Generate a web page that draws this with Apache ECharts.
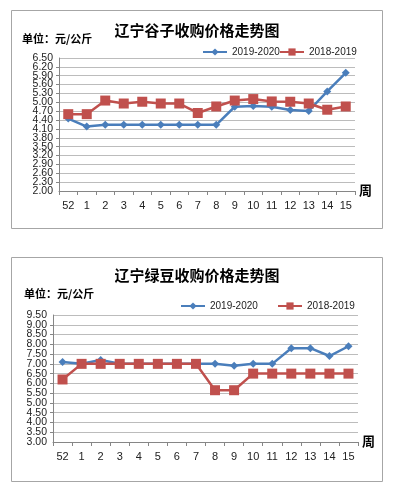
<!DOCTYPE html>
<html><head><meta charset="utf-8">
<script src="https://cdn.jsdelivr.net/npm/echarts@6/dist/echarts.min.js"></script>
<style>html,body{margin:0;padding:0;background:#fff}#c{width:394px;height:491px}</style>
</head><body><div id="c"></div>
<script>
const weeks = ['52','1','2','3','4','5','6','7','8','9','10','11','12','13','14','15'];
const seriesNames = ['2019-2020','2018-2019'];
const title1 = '辽宁谷子收购价格走势图';
const title2 = '辽宁绿豆收购价格走势图';
const unitLabel = '单位：元/公斤';
const millet2019 = [4.45,4.18,4.24,4.24,4.24,4.24,4.24,4.24,4.24,4.85,4.88,4.85,4.74,4.71,5.37,6.00];
const millet2018 = [4.60,4.60,5.06,4.96,5.02,4.96,4.96,4.64,4.86,5.06,5.11,5.03,5.02,4.96,4.75,4.86];
const mung2019 = [7.1,7.0,7.2,7.0,7.0,7.0,7.0,7.0,7.0,6.9,7.0,7.0,7.8,7.8,7.4,7.9];
const mung2018 = [6.2,7.0,7.0,7.0,7.0,7.0,7.0,7.0,5.65,5.65,6.5,6.5,6.5,6.5,6.5,6.5];

const BLUE = '#4a7ebb', RED = '#c0504d';
const FONT = '"Noto Sans CJK SC", "DejaVu Sans", sans-serif';
const NFONT = '"Liberation Sans", Arial, sans-serif';
const chart = echarts.init(document.getElementById('c'));

function xAxis(gi){
  return {type:'category', gridIndex:gi, data:weeks, boundaryGap:true,
    axisLine:{lineStyle:{color:'#868686'}},
    axisTick:{show:true, length:4, lineStyle:{color:'#868686'}},
    axisLabel:{color:'#222', fontSize:11, fontFamily:NFONT, margin:9},
    name:'周', nameLocation:'end', nameGap:4,
    nameTextStyle:{color:'#000', fontSize:13, fontWeight:'bold', fontFamily:FONT, verticalAlign:'bottom', padding:[0,0,-6,0]}};
}
const yLabelStyle = {color:'#222', fontSize:10.5, fontFamily:NFONT, margin:6};
function yAxis(gi,min,max,interval){
  return {type:'value', gridIndex:gi, min:min, max:max, interval:interval,
    axisLine:{show:true, lineStyle:{color:'#868686'}},
    axisTick:{show:true, length:3, lineStyle:{color:'#868686'}},
    splitLine:{lineStyle:{color:'#bcbcbc'}},
    axisLabel:Object.assign({showMinLabel:false, showMaxLabel:false,
      formatter:v=>v.toFixed(2)}, yLabelStyle)};
}
function yAxisEnds(gi,min,max,interval){
  return {type:'value', gridIndex:gi, min:min, max:max, interval:interval, position:'left',
    axisLine:{show:false}, axisTick:{show:false}, splitLine:{show:false},
    axisLabel:Object.assign({showMinLabel:true, showMaxLabel:true,
      formatter:v=>(Math.abs(v-min)<1e-6||Math.abs(v-max)<1e-6)?v.toFixed(2):''}, yLabelStyle)};
}
function line(name,data,gi,color,symbol,size){
  return {name:name, type:'line', xAxisIndex:gi, yAxisIndex:gi, data:data,
    symbol:symbol, symbolSize:size, lineStyle:{color:color, width:2.5},
    itemStyle:{color:color}, color:color, animation:false};
}
function legend(name,left,top){
  return {data:[name], left:left, top:top, itemWidth:24, itemHeight:9, itemGap:4,
    textStyle:{color:'#222', fontSize:10, fontFamily:NFONT}};
}

chart.setOption({
  animation:false,
  graphic:[
    {type:'rect', shape:{x:11.5,y:10.5,width:371,height:218}, style:{fill:'none', stroke:'#a6a6a6', lineWidth:1}},
    {type:'rect', shape:{x:11.5,y:257.5,width:371,height:224}, style:{fill:'none', stroke:'#a6a6a6', lineWidth:1}},
    {type:'text', left:22, top:33, style:{text:unitLabel, fill:'#000', fontSize:11, fontWeight:'bold', fontFamily:FONT}},
    {type:'text', left:24, top:288, style:{text:unitLabel, fill:'#000', fontSize:11, fontWeight:'bold', fontFamily:FONT}}
  ],
  title:[
    {text:title1, left:'center', top:18, textStyle:{fontSize:15, fontWeight:'bold', color:'#000', fontFamily:FONT}},
    {text:title2, left:'center', top:263, textStyle:{fontSize:15, fontWeight:'bold', color:'#000', fontFamily:FONT}}
  ],
  legend:[
    legend(seriesNames[0],197,42), legend(seriesNames[1],274,42),
    legend(seriesNames[0],175,296), legend(seriesNames[1],272,296)
  ],
  grid:[
    {left:59, top:58, width:296, height:133},
    {left:53, top:315, width:305, height:127}
  ],
  xAxis:[xAxis(0), xAxis(1)],
  yAxis:[yAxis(0,2.0,6.5,0.3), yAxis(1,3.0,9.5,0.5), yAxisEnds(0,2.0,6.5,0.3), yAxisEnds(1,3.0,9.5,0.5)],
  series:[
    line(seriesNames[0],millet2019,0,BLUE,'diamond',8),
    line(seriesNames[1],millet2018,0,RED,'rect',10),
    line(seriesNames[0],mung2019,1,BLUE,'diamond',8),
    line(seriesNames[1],mung2018,1,RED,'rect',10)
  ]
});
</script></body></html>
